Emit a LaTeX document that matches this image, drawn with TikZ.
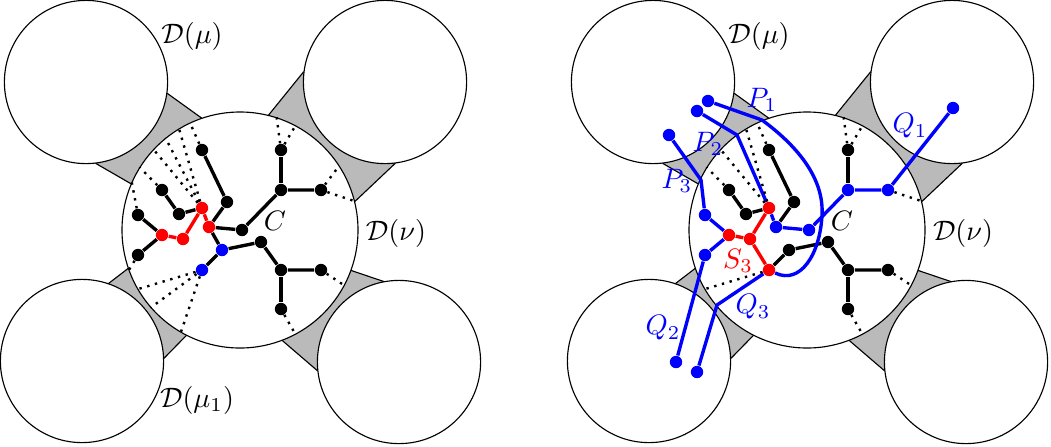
\documentclass[tikz,border=0pt]{standalone}
\usepackage{amsmath}
\usepackage{amssymb}
\usepackage{tikz}
\usetikzlibrary{backgrounds}
\tikzset {
    disc/.style = {
        draw,
        fill = white,
        shape = circle,
        line width = 0.4pt,
        inner sep = 0pt
    },
    big disc/.style = {
        disc,
        minimum size = 29.5mm
    },
    small disc/.style = {
        disc,
        minimum size = 20.4mm
    },
    joint/.style = {
        draw,
        fill = black!27,
        line width = 0.4pt
    },
    vertex/.style = {
        shape = circle,
        fill = #1,
        inner sep = 0pt,
        minimum size = 1.55mm
    },
    vertex/.default = black,
    link/.style = {
        draw = #1,
        line width = 1.2pt,
        line join = round
    },
    link/.default = black,
    dotline/.style = {
        line width = 0.85pt,
        dotted
    }
}

\begin{document}
\begin{tikzpicture}[x=0.125mm, y=-0.125mm]
    \useasboundingbox (0,0) rectangle (1051,446);

    % Both panels : the disc D(nu), its four neighbours and the grey joints
    \foreach \p/\dx in {a/0, b/567} {
        \begin{scope}[shift={(\dx,0)}, name prefix=\p-]
            \node [big disc]   at (240,230) (nu)  {};
            \node [small disc] at (86,82)   (mu)  {};
            \node [small disc] at (385,82)  (mu2) {};
            \node [small disc] at (82,361)  (mu1) {};
            \node [small disc] at (399,362) (mu3) {};

            \begin{scope}[on background layer]
                \path [joint] (mu.-8)   -- (nu.109) -- (nu.center) -- (nu.157) -- (mu.-83)  -- (mu.center)  -- cycle;
                \path [joint] (mu2.173) -- (nu.76)  -- (nu.center) -- (nu.14)  -- (mu2.-83) -- (mu2.center) -- cycle;
                \path [joint] (mu1.71)  -- (nu.199) -- (nu.center) -- (nu.243) -- (mu1.2)   -- (mu1.center) -- cycle;
                \path [joint] (mu3.101) -- (nu.-20) -- (nu.center) -- (nu.-69) -- (mu3.186) -- (mu3.center) -- cycle;
            \end{scope}

            \node at (192,36)  (lmu) {$\mathcal{D}(\mu)$};
            \node at (396,233) (lnu) {$\mathcal{D}(\nu)$};
            \node at (275,221) (lC)  {$C$};
        \end{scope}
    }
    \node at (197,400) (a-lmu1) {$\mathcal{D}(\mu_1)$};

    % Left : the tree C with the separator in red
    \begin{scope}[name prefix=a-]
        \node [vertex]      at (202,150) (v1)  {};
        \node [vertex]      at (227,202) (v2)  {};
        \node [vertex]      at (162,190) (v3)  {};
        \node [vertex]      at (179,214) (v4)  {};
        \node [vertex]      at (138,215) (v5)  {};
        \node [vertex]      at (138,255) (v6)  {};
        \node [vertex=red]  at (162,235) (r1)  {};
        \node [vertex=red]  at (183,239) (r2)  {};
        \node [vertex=red]  at (202,208) (r3)  {};
        \node [vertex=red]  at (209,227) (v7)  {};
        \node [vertex]      at (242,230) (v8)  {};
        \node [vertex]      at (281,190) (v9)  {};
        \node [vertex]      at (281,150) (v10) {};
        \node [vertex]      at (321,190) (v11) {};
        \node [vertex=blue] at (222,250) (v12) {};
        \node [vertex=blue] at (202,270) (v13) {};
        \node [vertex]      at (261,242) (v14) {};
        \node [vertex]      at (281,270) (v15) {};
        \node [vertex]      at (321,270) (v16) {};
        \node [vertex]      at (281,309) (v17) {};

        \draw [link]     (v1) -- (v2) -- (v7);
        \draw [link]     (v3) -- (v4) -- (r3);
        \draw [link]     (v5) -- (r1) -- (v6);
        \draw [link]     (v7) -- (v8) -- (v9) -- (v11);
        \draw [link]     (v10) -- (v9);
        \draw [link]     (v7) -- (v12) -- (v13);
        \draw [link]     (v12) -- (v14) -- (v15) -- (v16);
        \draw [link]     (v15) -- (v17);
        \draw [link=red] (r1) -- (r2) -- (r3) -- (v7);

        % edges leaving D(nu)
        \draw [dotline] (v1)  -- (nu.115);
        \draw [dotline] (r3)  -- (nu.121);
        \draw [dotline] (r3)  -- (nu.129);
        \draw [dotline] (r3)  -- (nu.137);
        \draw [dotline] (v3)  -- (nu.148);
        \draw [dotline] (v5)  -- (nu.156);
        \draw [dotline] (v6)  -- (nu.200);
        \draw [dotline] (v13) -- (nu.210);
        \draw [dotline] (v13) -- (nu.221);
        \draw [dotline] (v13) -- (nu.240);
        \draw [dotline] (v17) -- (nu.-62);
        \draw [dotline] (v16) -- (nu.-28);
        \draw [dotline] (v11) -- (nu.14);
        \draw [dotline] (v11) -- (nu.33);
        \draw [dotline] (v10) -- (nu.62);
        \draw [dotline] (v10) -- (nu.72);
    \end{scope}

    % Right : separator S_3 with the paths P_i and Q_i
    \begin{scope}[shift={(567,0)}, name prefix=b-]
        \node [vertex]      at (202,150) (v1)  {};
        \node [vertex]      at (227,202) (v2)  {};
        \node [vertex]      at (162,190) (v3)  {};
        \node [vertex]      at (179,214) (v4)  {};
        \node [vertex=blue] at (138,215) (v5)  {};
        \node [vertex=blue] at (138,255) (v6)  {};
        \node [vertex=red]  at (162,235) (r1)  {};
        \node [vertex=red]  at (183,239) (r2)  {};
        \node [vertex=red]  at (202,208) (r3)  {};
        \node [vertex=blue] at (209,227) (v7)  {};
        \node [vertex=blue] at (242,230) (v8)  {};
        \node [vertex=blue] at (281,190) (v9)  {};
        \node [vertex]      at (281,150) (v10) {};
        \node [vertex=blue] at (321,190) (v11) {};
        \node [vertex]      at (222,250) (v12) {};
        \node [vertex=red]  at (202,270) (v13) {};
        \node [vertex]      at (261,242) (v14) {};
        \node [vertex]      at (281,270) (v15) {};
        \node [vertex]      at (321,270) (v16) {};
        \node [vertex]      at (281,309) (v17) {};

        % ends of the paths, outside D(nu)
        \node [vertex=blue] at (141,101) (p1) {};
        \node [vertex=blue] at (130,111) (p2) {};
        \node [vertex=blue] at (102,135) (p3) {};
        \node [vertex=blue] at (386,108) (q1) {};
        \node [vertex=blue] at (109,362) (q2) {};
        \node [vertex=blue] at (130,372) (q3) {};
        \coordinate (k1) at (195,120);
        \coordinate (k2) at (170,135);
        \coordinate (k3) at (134,180);
        \coordinate (k4) at (150,305);

        \draw [link]     (v1) -- (v2) -- (v7);
        \draw [link]     (v3) -- (v4) -- (r3);
        \draw [link]     (v10) -- (v9);
        \draw [link]     (v13) -- (v12) -- (v14) -- (v15) -- (v16);
        \draw [link]     (v15) -- (v17);
        \draw [link=red] (r1) -- (r2) -- (r3);
        \draw [link=red] (r2) -- (v13);

        \draw [link=blue] (p1) -- (k1) .. controls (233,148) and (257,180) .. (255,215)
                                       .. controls (253,255) and (233,285) .. (v13);
        \draw [link=blue] (p2) -- (k2) -- (r3) -- (v7) -- (v8) -- (v9) -- (v11) -- (q1);
        \draw [link=blue] (p3) -- (k3) -- (v5) -- (r1);
        \draw [link=blue] (r1) -- (v6) -- (q2);
        \draw [link=blue] (v13) -- (k4) -- (q3);

        % edges leaving D(nu)
        \draw [dotline] (v1)  -- (nu.115);
        \draw [dotline] (r3)  -- (nu.121);
        \draw [dotline] (r3)  -- (nu.137);
        \draw [dotline] (v3)  -- (nu.148);
        \draw [dotline] (v13) -- (nu.210);
        \draw [dotline] (v17) -- (nu.-62);
        \draw [dotline] (v16) -- (nu.-28);
        \draw [dotline] (v11) -- (nu.14);
        \draw [dotline] (v10) -- (nu.62);
        \draw [dotline] (v10) -- (nu.72);

        \node [blue] at (195,100) (lP1) {$P_1$};
        \node [blue] at (141,144) (lP2) {$P_2$};
        \node [blue] at (110,181) (lP3) {$P_3$};
        \node [blue] at (343,126) (lQ1) {$Q_1$};
        \node [blue] at (96,328)  (lQ2) {$Q_2$};
        \node [blue] at (186,307) (lQ3) {$Q_3$};
        \node [red]  at (171,261) (lS3) {$S_3$};
    \end{scope}
\end{tikzpicture}
\end{document}
